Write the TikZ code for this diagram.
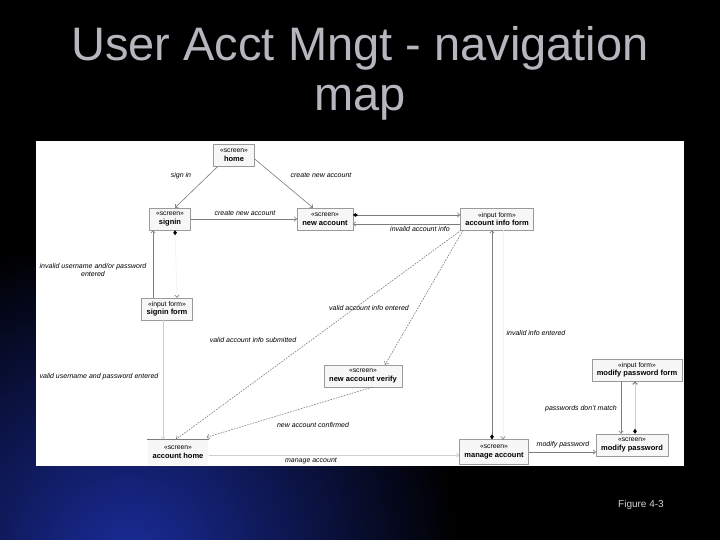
\documentclass[tikz,border=0pt]{standalone}
\usepackage{fontspec}
\setmainfont{Liberation Sans}
\usetikzlibrary{arrows.meta}

\definecolor{boxgray}{HTML}{9A9A9A}
\definecolor{boxfill}{HTML}{F7F7F7}
\definecolor{linegray}{HTML}{7C7C7C}
\definecolor{faintgray}{HTML}{CFCFCF}
\definecolor{ghostgray}{HTML}{F2F2F2}
\definecolor{titlegray}{HTML}{B6B6BE}
\definecolor{figgray}{HTML}{D2D2D2}
\definecolor{bgblue}{HTML}{1A2C9A}

\newcommand{\stereo}[1]{{\mdseries\fontsize{6.8}{8.2}\selectfont «#1»}\\}

\tikzset{
    screen/.style={draw=boxgray, fill=boxfill, align=center, inner xsep=5pt, inner ysep=1.5pt,
        minimum width=41pt, minimum height=22pt, font=\fontsize{7.5}{8.5}\selectfont\bfseries},
    lbl/.style={font=\fontsize{7}{8}\selectfont\itshape, inner sep=0pt, align=center},
    nav/.style={draw=linegray, line width=0.6pt, -{Straight Barb[length=2.5pt,width=4.5pt]}},
    navfaint/.style={nav, draw=faintgray},
    navdash/.style={nav, dash pattern=on 1.6pt off 1.2pt},
    diamondnav/.style={draw=linegray, line width=0.6pt,
        {Diamond[length=5pt,width=3.6pt,color=black]}-{Straight Barb[length=2.5pt,width=4.5pt,color=linegray]}},
    ghostnav/.style={draw=ghostgray, line width=0.6pt, -{Straight Barb[length=2.5pt,width=4.5pt,color=linegray]}},
    titletext/.style={font=\fontsize{47}{54}\selectfont, anchor=base, inner sep=0pt, text=titlegray}
}

\begin{document}
\begin{tikzpicture}[x=1pt,y=-1pt]
    \useasboundingbox (0,0) rectangle (720,540);

    %Hintergrund
    \begin{scope}
        \clip (0,0) rectangle (720,540);
        \fill[black] (0,0) rectangle (720,540);
        \fill[inner color=bgblue, outer color=black] (130,560) circle (330pt);
    \end{scope}

    %Titel
    \node[titletext] (title) at (360,61) {User Acct Mngt - navigation};
    \node[titletext] (map) at (360,111) {map};

    %Diagramm
    \fill[white] (36,141) rectangle (684,466);
    \begin{scope}
        \clip (36,141) rectangle (684,466);

        %Knoten
        \node[screen] (home) at (234,155) {\stereo{screen}home};
        \node[screen] (signin) at (170,219) {\stereo{screen}signin};
        \node[screen] (newacct) at (325,219) {\stereo{screen}new account};
        \node[screen] (acctinfo) at (497,219) {\stereo{input form}account info form};
        \node[screen] (signinform) at (167,309) {\stereo{input form}signin form};
        \node[screen] (newverify) at (363,376) {\stereo{screen}new account verify};
        \node[screen] (modpwform) at (637,370) {\stereo{input form}modify password form};
        \node[screen, draw=none, minimum height=25pt] (accthome) at (178,452) {\stereo{screen}account home};
        \draw[linegray] (accthome.north west) -- (accthome.north east);   %nur obere Kante
        \node[screen, minimum height=25pt] (manageacct) at (494,452) {\stereo{screen}manage account};
        \node[screen] (modpw) at (632,445) {\stereo{screen}modify password};

        %Pfeile
        \draw[nav] ([xshift=-16pt]home.south) -- ([xshift=5pt]signin.north);
        \node[lbl] (lsignin) at (181,176) {sign in};

        \draw[nav] ([yshift=-4pt]home.east) -- ([xshift=-12pt]newacct.north);
        \node[lbl] (lhomenew) at (321,175) {create new account};

        \draw[nav] (signin.east) -- (newacct.west);
        \node[lbl] (lsignnew) at (245,213) {create new account};

        \draw[diamondnav] ([yshift=4pt]newacct.east) -- ([yshift=4pt]newacct.east -| acctinfo.west);
        \draw[nav] ([yshift=-5pt]acctinfo.west) -- ([yshift=-5pt]acctinfo.west -| newacct.east);
        \node[lbl] (linvacct) at (420,229) {invalid account info};

        \draw[nav] ([xshift=-14pt]signinform.north) -- ([xshift=-14pt]signinform.north |- signin.south);
        \draw[diamondnav, draw=ghostgray] ([xshift=5pt]signin.south) -- ([xshift=10pt]signinform.north);
        \node[lbl] (linvuser) at (93,270) {invalid username and/or password\\entered};

        \draw[navfaint] ([xshift=-4pt]signinform.south) -- ([xshift=-4pt]signinform.south |- accthome.north);
        \node[lbl] (lvaliduser) at (99,377) {valid username and password entered};

        \draw[navdash] ([xshift=1pt]acctinfo.south west) -- ([xshift=-2pt]accthome.north);
        \node[lbl] (lsubmitted) at (253,340) {valid account info submitted};

        \draw[navdash] ([xshift=3pt]acctinfo.south west) -- ([xshift=22pt]newverify.north);
        \node[lbl] (lentered) at (369,308) {valid account info entered};

        \draw[navdash] ([xshift=9pt]newverify.south) -- ([xshift=-2pt,yshift=2pt]accthome.north east);
        \node[lbl] (lconfirmed) at (313,425) {new account confirmed};

        \draw[navfaint] ([yshift=-3pt]accthome.east) -- ([yshift=-3pt]accthome.east -| manageacct.west);
        \node[lbl] (lmanage) at (311,461) {manage account};

        \draw[diamondnav] ([xshift=-2pt]manageacct.north) -- ([xshift=-2pt]manageacct.north |- acctinfo.south);
        \draw[ghostnav] ([xshift=9pt]manageacct.north |- acctinfo.south) -- ([xshift=9pt]manageacct.north);
        \node[lbl] (linvinfo) at (536,333) {invalid info entered};

        \draw[nav] (manageacct.east) -- (manageacct.east -| modpw.west);
        \node[lbl] (lmodify) at (563,445) {modify password};

        \draw[nav] ([xshift=-16pt]modpwform.south) -- ([xshift=-16pt]modpwform.south |- modpw.north);
        \node[lbl] (lnomatch) at (581,409) {passwords don't match};
        \draw[diamondnav, draw=faintgray, line width=1pt] ([xshift=-2pt]modpwform.south |- modpw.north) -- ([xshift=-2pt]modpwform.south);
    \end{scope}

    %Legende
    \node[font=\fontsize{10}{12}\selectfont, text=figgray] (fig) at (641,505) {Figure 4-3};
\end{tikzpicture}
\end{document}
